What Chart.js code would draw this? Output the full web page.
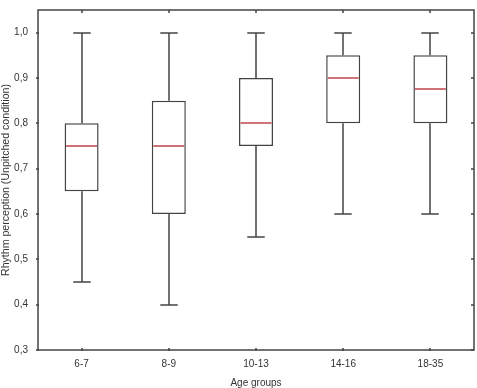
<!DOCTYPE html>
<html>
<head>
<meta charset="utf-8">
<script src="https://cdn.jsdelivr.net/npm/chart.js@4"></script>
<style>
  html, body { margin: 0; padding: 0; background: #fff; }
  #wrap { width: 477px; height: 388px; }
</style>
</head>
<body>
<div id="wrap"><canvas id="chart"></canvas></div>
<script>
// box plot values
const groups = ['6-7', '8-9', '10-13', '14-16', '18-35'];
const mins = [0.45, 0.40, 0.55, 0.60, 0.60];
const q1 = [0.65, 0.60, 0.75, 0.80, 0.80];
const medians = [0.75, 0.75, 0.80, 0.90, 0.875];
const q3 = [0.80, 0.85, 0.90, 0.95, 0.95];
const maxs = [1.0, 1.0, 1.0, 1.0, 1.0];
const yTicks = [0.3, 0.4, 0.5, 0.6, 0.7, 0.8, 0.9, 1.0];

const lineColor = '#444';
const medianColor = '#b0141e';
const font = 'Arial, "Liberation Sans", sans-serif';

// whiskers (drawn under the boxes) and medians (drawn on top)
const boxPlotLines = {
  id: 'boxPlotLines',
  beforeDatasetsDraw(chart) {
    const { ctx, scales: { x, y } } = chart;
    ctx.save();
    ctx.strokeStyle = lineColor;
    ctx.lineWidth = 1.5;
    groups.forEach((g, i) => {
      const cx = Math.round(x.getPixelForValue(i));
      const half = x.width / groups.length * 0.1;
      [mins[i], maxs[i]].forEach((v, k) => {
        const py = Math.round(y.getPixelForValue(v));
        const end = y.getPixelForValue(k === 0 ? q1[i] : q3[i]);
        ctx.beginPath();
        ctx.moveTo(cx, py);
        ctx.lineTo(cx, end);
        ctx.moveTo(cx - half, py);
        ctx.lineTo(cx + half, py);
        ctx.stroke();
      });
    });
    ctx.restore();
  },
  afterDatasetsDraw(chart) {
    const { ctx, scales: { y } } = chart;
    const meta = chart.getDatasetMeta(0);
    ctx.save();
    ctx.strokeStyle = medianColor;
    ctx.lineWidth = 1.2;
    meta.data.forEach((bar, i) => {
      const py = Math.round(y.getPixelForValue(medians[i]));
      ctx.beginPath();
      ctx.moveTo(bar.x - bar.width / 2 + 1.5, py);
      ctx.lineTo(bar.x + bar.width / 2 - 1.5, py);
      ctx.stroke();
    });
    ctx.restore();
  }
};

// frame around the plot area with small tick marks on all four sides
const frame = {
  id: 'frame',
  afterDraw(chart) {
    const { ctx, chartArea: a, scales: { x, y } } = chart;
    ctx.save();
    ctx.strokeStyle = lineColor;
    ctx.lineWidth = 1.5;
    ctx.strokeRect(Math.round(a.left), Math.round(a.top),
      Math.round(a.right - a.left), Math.round(a.bottom - a.top));
    ctx.beginPath();
    groups.forEach((g, i) => {
      const px = Math.round(x.getPixelForValue(i));
      ctx.moveTo(px, a.bottom + 1); ctx.lineTo(px, a.bottom - 2);
      ctx.moveTo(px, a.top); ctx.lineTo(px, a.top + 3);
    });
    yTicks.forEach(v => {
      const py = Math.round(y.getPixelForValue(v));
      ctx.moveTo(a.left - 2, py); ctx.lineTo(a.left + 1, py);
      ctx.moveTo(a.right, py); ctx.lineTo(a.right - 3, py);
    });
    ctx.stroke();
    ctx.restore();
  }
};

new Chart(document.getElementById('chart'), {
  type: 'bar',
  data: {
    labels: groups,
    datasets: [{
      data: q1.map((v, i) => [v, q3[i]]),
      backgroundColor: '#ffffff',
      borderColor: lineColor,
      borderWidth: 1.5,
      borderSkipped: false,
      barPercentage: 0.39,
      categoryPercentage: 1
    }]
  },
  options: {
    responsive: true,
    maintainAspectRatio: false,
    animation: false,
    layout: { padding: { top: 10, right: 3, left: 0, bottom: 0 } },
    plugins: {
      legend: { display: false },
      tooltip: { enabled: false }
    },
    scales: {
      x: {
        grid: { display: false, drawTicks: false },
        border: { display: false },
        ticks: {
          color: '#333',
          padding: 8,
          font: { family: font, size: 10 }
        },
        title: {
          display: true,
          text: 'Age groups',
          color: '#333',
          padding: 0,
          font: { family: font, size: 10, lineHeight: 1 }
        },
        afterFit(scale) { scale.height = 38; scale.paddingLeft = 0; scale.paddingRight = 0; }
      },
      y: {
        min: 0.3,
        max: 1.05,
        grid: { display: false, drawTicks: false },
        border: { display: false },
        afterBuildTicks(scale) { scale.ticks = yTicks.map(v => ({ value: v })); },
        ticks: {
          color: '#333',
          padding: 10,
          font: { family: font, size: 10 },
          callback: v => v.toFixed(1).replace('.', ',')
        },
        title: {
          display: true,
          text: 'Rhythm perception (Unpitched condition)',
          color: '#333',
          padding: 0,
          font: { family: font, size: 10.6, lineHeight: 1.1 }
        },
        afterFit(scale) { scale.width = 38; scale.paddingTop = 0; scale.paddingBottom = 0; }
      }
    }
  },
  plugins: [boxPlotLines, frame]
});
</script>
</body>
</html>
